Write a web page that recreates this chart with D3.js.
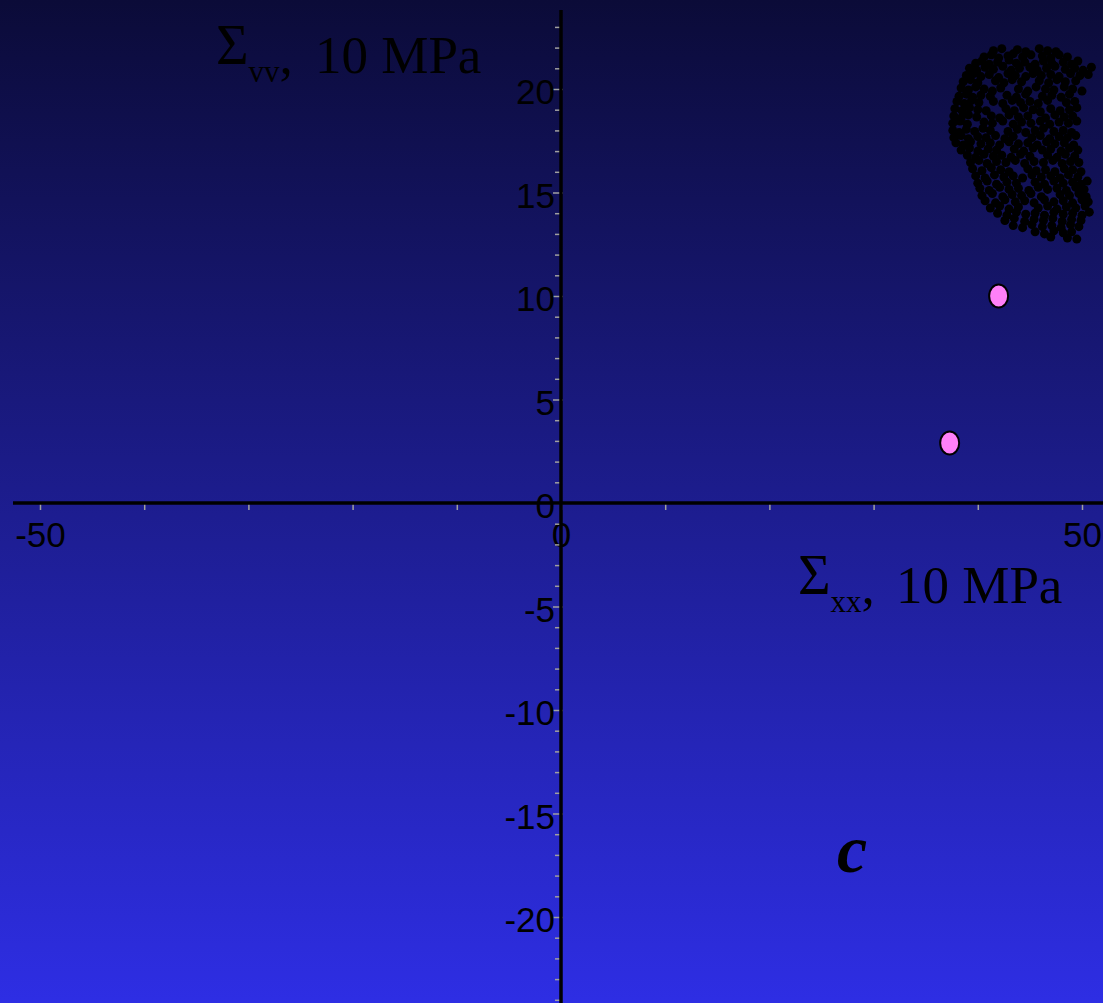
<!DOCTYPE html>
<html>
<head>
<meta charset="utf-8">
<script src="https://cdn.jsdelivr.net/npm/d3@7"></script>
<style>
  html, body { margin: 0; padding: 0; background: #0c0c3c; }
  svg { display: block; }
</style>
</head>
<body>
<script>
// Stress state scatter: simulated cluster and two measured points (units of 10 MPa)
const xTickLabels = [-50, 0, 50];
const yTickLabels = [-20, -15, -10, -5, 0, 5, 10, 15, 20];

// Measured states (Σxx, Σvv)
const measuredX = [42.0, 37.3];
const measuredY = [10.0, 2.9];

// Simulated cluster of states, [Σxx, Σvv]
const clusterPoints = [
  [41.5,21.85],[42.3,21.95],[43.8,21.9],[44.6,21.8],[45.9,21.95],[46.7,21.85],[47.5,21.8],
  [40.6,21.55],[41.3,21.65],[42.0,21.5],[42.9,21.6],[43.4,21.7],[44.3,21.55],[45.1,21.65],[46.2,21.6],[47.0,21.5],[47.8,21.65],[48.6,21.55],
  [39.8,21.25],[40.4,21.35],[41.1,21.2],[41.9,21.3],[43.0,21.4],[43.7,21.25],[44.5,21.3],[45.5,21.2],[46.3,21.35],[47.1,21.25],[48.2,21.3],[49.0,21.2],[49.6,21.35],
  [39.2,21.0],[39.9,20.9],[40.7,21.05],[41.5,20.95],[42.4,21.1],[43.2,20.9],[44.0,21.0],[45.0,21.05],[45.7,20.9],[46.6,21.0],[47.4,21.1],[48.4,20.95],[49.3,21.0],[50.1,20.9],[50.9,21.05],
  [38.9,20.65],[39.6,20.75],[40.3,20.6],[41.1,20.7],[42.0,20.55],[42.9,20.75],[43.6,20.65],[44.6,20.6],[45.3,20.75],[46.1,20.65],[47.0,20.7],[47.8,20.6],[48.9,20.75],[49.8,20.65],[50.6,20.7],
  [38.6,20.35],[39.3,20.45],[40.0,20.3],[41.7,20.4],[42.5,20.3],[43.3,20.45],[44.2,20.35],[45.9,20.4],[46.8,20.3],[47.6,20.45],[48.4,20.35],[49.4,20.4],
  [38.4,20.05],[39.1,19.95],[39.8,20.1],[40.6,20.0],[41.4,19.9],[42.2,20.05],[43.9,20.0],[44.8,19.9],[45.6,20.1],[46.5,20.0],[47.3,19.95],[48.3,20.1],[49.1,20.0],[50.0,19.9],
  [38.2,19.65],[38.9,19.75],[39.5,19.6],[40.3,19.7],[41.2,19.65],[42.8,19.7],[43.7,19.6],[44.6,19.75],[46.2,19.65],[47.1,19.7],[48.0,19.6],[48.8,19.75],
  [38.0,19.4],[38.7,19.3],[39.4,19.45],[40.1,19.35],[41.5,19.4],[42.4,19.3],[43.3,19.45],[44.1,19.35],[45.0,19.4],[45.8,19.3],[46.7,19.45],[48.5,19.35],[49.3,19.4],
  [37.8,19.05],[38.5,18.95],[39.2,19.1],[40.0,19.0],[40.8,18.95],[42.7,19.05],[43.5,18.95],[44.4,19.1],[45.3,19.0],[46.0,18.9],[47.0,19.05],[47.9,18.95],[48.8,19.0],[49.5,19.1],
  [37.7,18.7],[38.4,18.6],[39.1,18.75],[39.9,18.65],[41.3,18.7],[42.1,18.6],[43.0,18.75],[43.9,18.65],[44.8,18.7],[46.5,18.6],[47.4,18.75],[48.3,18.65],[49.1,18.7],
  [37.6,18.35],[38.3,18.45],[39.0,18.3],[40.6,18.4],[41.4,18.35],[42.4,18.45],[43.4,18.3],[44.2,18.4],[45.1,18.35],[46.0,18.45],[46.9,18.3],[47.8,18.4],[48.7,18.35],[49.5,18.45],
  [37.6,18.0],[38.2,17.9],[38.9,18.05],[39.7,17.95],[40.5,18.1],[41.2,18.0],[42.9,17.95],[43.8,18.05],[44.6,17.9],[45.5,18.0],[46.3,18.1],[47.3,17.95],[48.2,18.0],[49.0,17.9],
  [37.7,17.65],[38.4,17.75],[39.1,17.6],[40.0,17.7],[40.8,17.65],[41.7,17.75],[42.6,17.6],[43.4,17.7],[45.2,17.65],[46.0,17.75],[46.9,17.6],[47.8,17.7],[48.6,17.65],[49.4,17.75],
  [37.9,17.4],[38.6,17.3],[39.3,17.45],[40.3,17.35],[41.2,17.4],[42.1,17.3],[43.0,17.45],[43.9,17.35],[44.8,17.4],[45.7,17.3],[46.6,17.45],[47.4,17.35],[48.3,17.4],[49.2,17.3],
  [38.4,17.05],[39.2,17.15],[40.0,17.0],[41.0,17.1],[41.8,17.05],[43.5,17.1],[44.4,17.0],[45.3,17.15],[46.2,17.05],[47.0,17.1],[48.0,17.0],[48.8,17.15],[49.6,17.05],
  [39.0,16.8],[39.8,16.7],[40.6,16.85],[41.5,16.75],[42.3,16.8],[43.2,16.7],[44.1,16.85],[45.0,16.75],[46.7,16.8],[47.6,16.7],[48.4,16.85],[49.3,16.75],
  [39.3,16.45],[40.1,16.55],[40.9,16.4],[41.8,16.5],[42.7,16.45],[43.6,16.55],[44.5,16.4],[45.4,16.5],[46.3,16.45],[47.2,16.55],[48.1,16.4],[48.9,16.5],[49.7,16.45],
  [39.5,16.15],[40.4,16.05],[41.3,16.2],[42.2,16.1],[43.0,16.0],[44.8,16.15],[45.6,16.05],[46.5,16.1],[47.4,16.0],[48.3,16.15],[49.1,16.1],[49.9,16.0],
  [39.8,15.8],[40.7,15.7],[41.6,15.85],[42.5,15.75],[43.4,15.8],[44.3,15.7],[45.2,15.85],[46.1,15.75],[47.0,15.8],[47.9,15.7],[48.7,15.85],[49.6,15.75],
  [40.0,15.45],[40.9,15.55],[41.8,15.4],[42.8,15.5],[43.7,15.45],[45.5,15.5],[46.4,15.4],[47.3,15.55],[48.2,15.45],[49.1,15.5],[49.9,15.4],[50.5,15.55],
  [40.2,15.2],[41.1,15.1],[42.1,15.25],[43.0,15.15],[43.9,15.2],[44.9,15.1],[45.8,15.25],[46.7,15.15],[47.6,15.2],[48.5,15.1],[49.4,15.25],[50.2,15.15],
  [40.4,14.85],[41.4,14.95],[42.4,14.8],[43.3,14.9],[44.2,14.85],[45.1,14.95],[46.1,14.8],[47.9,14.9],[48.8,14.85],[49.7,14.95],[50.4,14.8],
  [40.7,14.6],[41.7,14.5],[42.6,14.65],[43.6,14.55],[44.5,14.6],[45.4,14.5],[46.4,14.65],[47.3,14.55],[48.2,14.6],[49.1,14.5],[50.0,14.65],[50.6,14.55],
  [41.2,14.25],[42.1,14.35],[43.0,14.2],[43.9,14.3],[45.8,14.25],[46.7,14.35],[47.6,14.2],[48.5,14.3],[49.4,14.25],[50.3,14.35],
  [41.9,14.0],[42.8,13.9],[43.7,14.05],[44.6,13.95],[45.5,14.0],[46.4,13.9],[47.3,14.05],[48.2,13.95],[49.1,14.0],[50.0,13.9],[50.7,14.05],
  [42.6,13.65],[43.5,13.75],[44.5,13.6],[45.4,13.7],[46.3,13.65],[47.2,13.75],[48.1,13.6],[49.0,13.7],[49.9,13.65],
  [43.4,13.4],[44.3,13.3],[45.2,13.45],[46.2,13.35],[47.1,13.4],[48.0,13.3],[48.9,13.45],[49.7,13.35],
  [45.5,13.1],[46.4,13.0],[47.3,13.15],[48.2,13.05],[49.0,13.1],
  [47.0,12.85],[48.6,12.8],[49.5,12.75]
];

const W = 1103, H = 1003;

const svg = d3.select("body").append("svg")
  .attr("width", W).attr("height", H);

// Background: vertical blue gradient
const defs = svg.append("defs");
const grad = defs.append("linearGradient")
  .attr("id", "bg").attr("x1", 0).attr("y1", 0).attr("x2", 0).attr("y2", 1);
grad.append("stop").attr("offset", "0%").attr("stop-color", "#0b0b38");
grad.append("stop").attr("offset", "100%").attr("stop-color", "#2e2ee4");
svg.append("rect").attr("width", W).attr("height", H).attr("fill", "url(#bg)");

const x = d3.scaleLinear().domain([-50, 50]).range([40, 1082]);
const y = d3.scaleLinear().domain([-20, 20]).range([917, 89]);

const tickGray = "#a0a0a0";
const sans = "'Liberation Sans', Arial, sans-serif";
const serif = "'Liberation Serif', 'Times New Roman', serif";

// X ticks every 10 units, labels at the ends and origin
const xAxis = d3.axisBottom(x)
  .tickValues(d3.range(-50, 51, 10))
  .tickSize(7)
  .tickPadding(12)
  .tickFormat(d => xTickLabels.includes(d) ? String(d) : "");
const gx = svg.append("g").attr("transform", `translate(0,${y(0)})`).call(xAxis);
gx.select(".domain").remove();
gx.selectAll(".tick line").attr("stroke", tickGray).attr("stroke-width", 1.5);
gx.selectAll(".tick text").attr("fill", "#000").attr("font-family", sans).attr("font-size", 35);

// Y ticks every unit, labels every 5
const yAxis = d3.axisLeft(y)
  .tickValues(d3.range(-24, 24, 1))
  .tickSize(6)
  .tickPadding(0)
  .tickFormat(d => yTickLabels.includes(d) ? String(d) : "");
const gy = svg.append("g").attr("transform", `translate(${x(0)},0)`).call(yAxis);
gy.select(".domain").remove();
gy.selectAll(".tick line").attr("stroke", tickGray).attr("stroke-width", 1.5)
  .attr("x2", d => yTickLabels.includes(d) ? 2 : 0)
  .attr("x1", d => yTickLabels.includes(d) ? -8 : -6);
gy.selectAll(".tick text").attr("fill", "#000").attr("font-family", sans).attr("font-size", 35)
  .attr("dy", "0.42em");

// Axis lines
svg.append("line").attr("x1", 13).attr("x2", W).attr("y1", y(0)).attr("y2", y(0))
  .attr("stroke", "#000").attr("stroke-width", 3.5);
svg.append("line").attr("x1", x(0)).attr("x2", x(0)).attr("y1", 10).attr("y2", H)
  .attr("stroke", "#000").attr("stroke-width", 3.5);

// Simulated cluster
svg.append("g").selectAll("circle").data(clusterPoints).join("circle")
  .attr("cx", d => x(d[0])).attr("cy", d => y(d[1])).attr("r", 4.5)
  .attr("fill", "#000");

// Measured points
svg.append("g").selectAll("ellipse").data(measuredX.map((v, i) => [v, measuredY[i]])).join("ellipse")
  .attr("cx", d => x(d[0])).attr("cy", d => y(d[1]))
  .attr("rx", 9.5).attr("ry", 11.5)
  .attr("fill", "#ff80f8").attr("stroke", "#000").attr("stroke-width", 2);

// Axis titles: Σ with subscript, then the unit
function axisTitle(px, py, sub, unitX) {
  const t = svg.append("text").attr("x", px).attr("y", py)
    .attr("font-family", serif).attr("font-size", 53).attr("fill", "#000");
  t.append("tspan").attr("dy", -9).attr("font-size", 56).text("Σ");
  t.append("tspan").attr("dy", 18).attr("font-size", 31).text(sub);
  t.append("tspan").attr("dy", -9).text(",");
  t.append("tspan").attr("x", unitX).text("10 MPa");
}
axisTitle(216, 73, "vv", 315);
axisTitle(798, 603, "xx", 896);

// Panel letter
svg.append("text").attr("x", 837).attr("y", 872)
  .attr("font-family", serif).attr("font-style", "italic").attr("font-weight", "bold")
  .attr("font-size", 68).attr("fill", "#000").text("c");
</script>
</body>
</html>
